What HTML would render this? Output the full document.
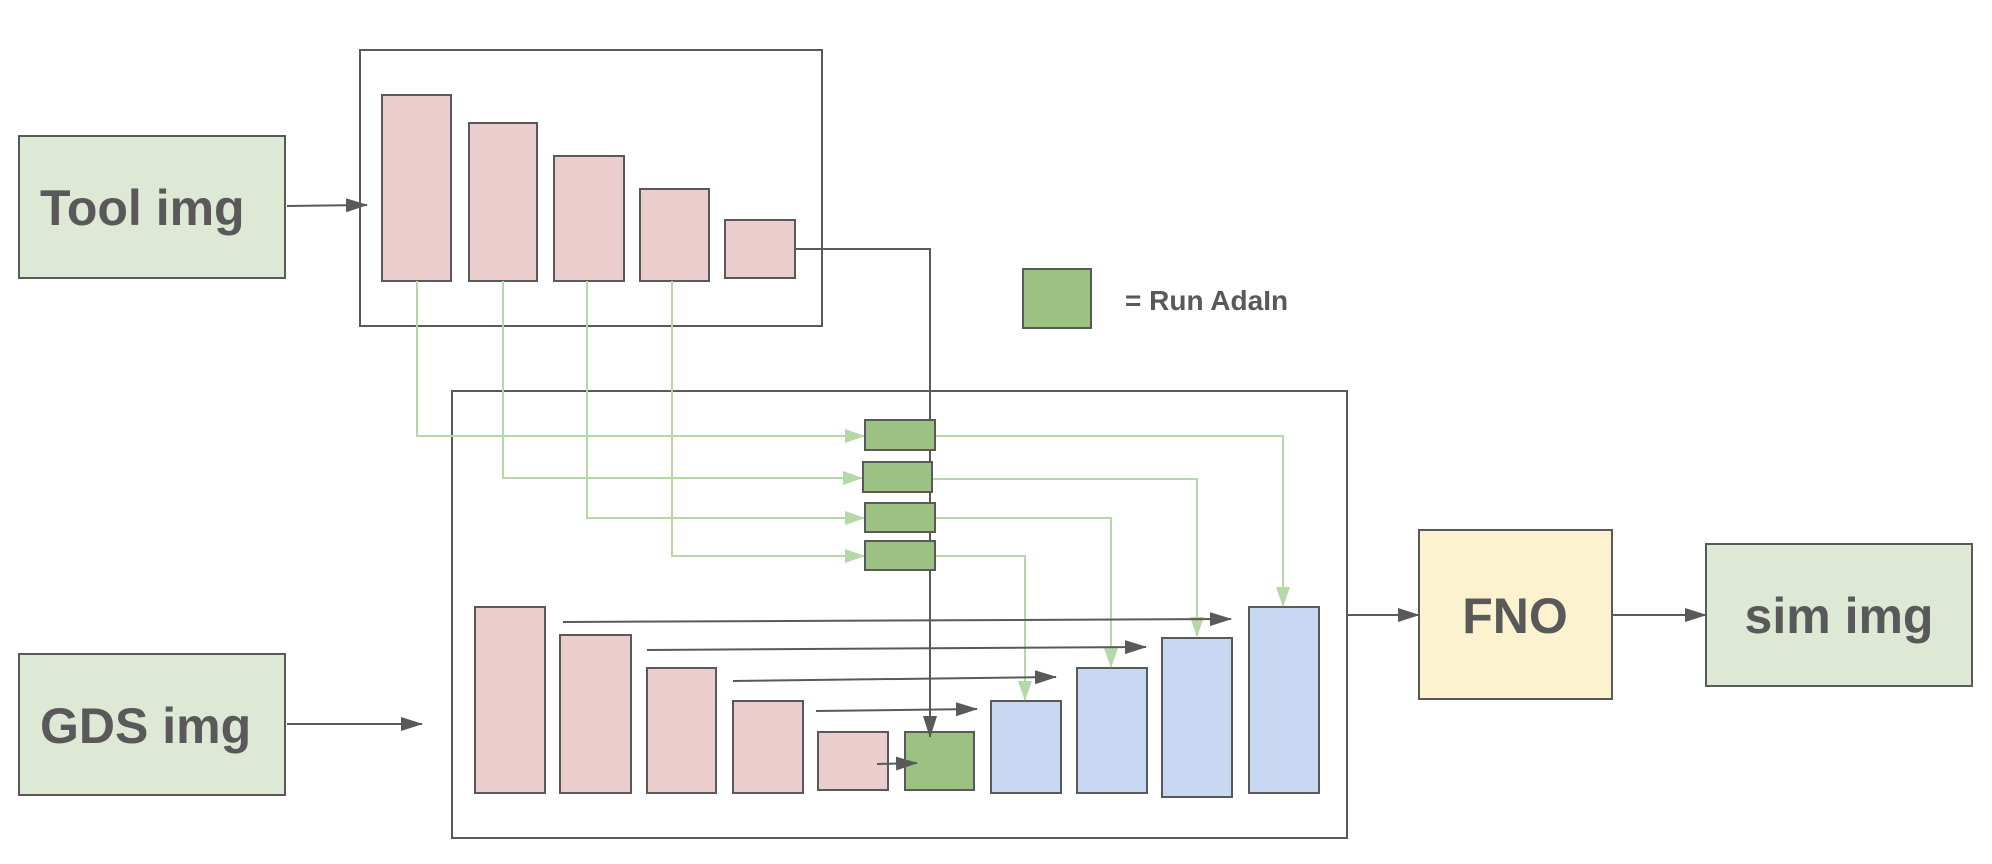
<!DOCTYPE html>
<html><head><meta charset="utf-8"><style>
html,body{margin:0;padding:0;background:#fff;}
svg{display:block;}
text{font-family:"Liberation Sans",Arial,sans-serif;font-weight:bold;fill:#595959;}
</style></head><body>
<svg width="1992" height="864" viewBox="0 0 1992 864" xmlns="http://www.w3.org/2000/svg">
<defs>
<marker id="ag" markerWidth="20" markerHeight="14" refX="19" refY="7" orient="auto" markerUnits="userSpaceOnUse"><path d="M0,0 L20,7 L0,14 z" fill="#b6d7a8"/></marker>
<marker id="ak" markerWidth="22" markerHeight="14" refX="21" refY="7" orient="auto" markerUnits="userSpaceOnUse"><path d="M0,0 L22,7 L0,14 z" fill="#595959"/></marker>
</defs>
<g stroke="#595959" stroke-width="2">
<rect x="19" y="136" width="266" height="142" fill="#dde8d5"/>
<rect x="19" y="654" width="266" height="141" fill="#dde8d5"/>
<rect x="360" y="50" width="462" height="276" fill="none"/>
<rect x="452" y="391" width="895" height="447" fill="none"/>
<rect x="1419" y="530" width="193" height="169" fill="#fdf2d0"/>
<rect x="1706" y="544" width="266" height="142" fill="#dde8d5"/>
<rect x="1023" y="269" width="68" height="59" fill="#9bc283"/>
<g fill="#eccdcd">
<rect x="382" y="95" width="69" height="186"/>
<rect x="469" y="123" width="68" height="158"/>
<rect x="554" y="156" width="70" height="125"/>
<rect x="640" y="189" width="69" height="92"/>
<rect x="725" y="220" width="70" height="58"/>
<rect x="475" y="607" width="70" height="186"/>
<rect x="560" y="635" width="71" height="158"/>
<rect x="647" y="668" width="69" height="125"/>
<rect x="733" y="701" width="70" height="92"/>
<rect x="818" y="732" width="70" height="58"/>
</g>
<g fill="#c9d8f2">
<rect x="991" y="701" width="70" height="92"/>
<rect x="1077" y="668" width="70" height="125"/>
<rect x="1162" y="638" width="70" height="159"/>
<rect x="1249" y="607" width="70" height="186"/>
</g>
<rect x="905" y="732" width="69" height="58" fill="#9bc283"/>
</g>
<g stroke="#b6d7a8" stroke-width="2" fill="none">
<polyline points="417,281 417,436 864,436" marker-end="url(#ag)"/>
<polyline points="503,281 503,478 862,478" marker-end="url(#ag)"/>
<polyline points="587,281 587,518 864,518" marker-end="url(#ag)"/>
<polyline points="672,281 672,556 864,556" marker-end="url(#ag)"/>
<polyline points="935,436 1283,436 1283,606" marker-end="url(#ag)"/>
<polyline points="932,479 1197,479 1197,636" marker-end="url(#ag)"/>
<polyline points="935,518 1111,518 1111,667" marker-end="url(#ag)"/>
<polyline points="935,556 1025,556 1025,700" marker-end="url(#ag)"/>
</g>
<polyline points="795,249 930,249 930,737" fill="none" stroke="#595959" stroke-width="2" marker-end="url(#ak)"/>
<g stroke="#595959" stroke-width="2" fill="#9bc283">
<rect x="865" y="420" width="70" height="30"/>
<rect x="863" y="462" width="69" height="30"/>
<rect x="865" y="503" width="70" height="29"/>
<rect x="865" y="541" width="70" height="29"/>
</g>
<g stroke="#595959" stroke-width="2" fill="none">
<line x1="287" y1="206" x2="367" y2="205" marker-end="url(#ak)"/>
<line x1="287" y1="724" x2="422" y2="724" marker-end="url(#ak)"/>
<line x1="563" y1="622" x2="1231" y2="619" marker-end="url(#ak)"/>
<line x1="647" y1="650" x2="1146" y2="647" marker-end="url(#ak)"/>
<line x1="733" y1="681" x2="1056" y2="677" marker-end="url(#ak)"/>
<line x1="816" y1="711" x2="977" y2="709" marker-end="url(#ak)"/>
<line x1="877" y1="764" x2="917" y2="763" marker-end="url(#ak)"/>
<line x1="1347" y1="615" x2="1419" y2="615" marker-end="url(#ak)"/>
<line x1="1612" y1="615" x2="1706" y2="615" marker-end="url(#ak)"/>
</g>
<text x="40" y="225" font-size="50">Tool img</text>
<text x="40" y="743" font-size="50">GDS img</text>
<text x="1515" y="633" font-size="50" text-anchor="middle">FNO</text>
<text x="1839" y="633" font-size="50" text-anchor="middle">sim img</text>
<text x="1125" y="310" font-size="28">= Run AdaIn</text>
</svg>
</body></html>
